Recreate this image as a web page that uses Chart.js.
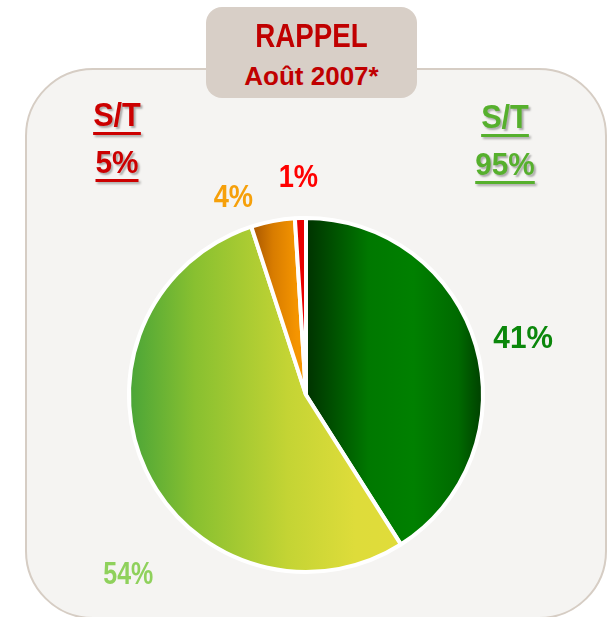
<!DOCTYPE html>
<html>
<head>
<meta charset="utf-8">
<script src="https://cdn.jsdelivr.net/npm/chart.js@4"></script>
<style>
    html, body { margin: 0; padding: 0; background: #ffffff; }
    body { width: 614px; height: 617px; position: relative; overflow: hidden; font-family: "Liberation Sans", Arial, sans-serif; }
    #panel {
        position: absolute; left: 25px; top: 68px; width: 578px; height: 547px;
        background: #f5f4f2; border: 2px solid #d6cdc4; border-radius: 68px;
    }
    #titlebox {
        position: absolute; left: 206px; top: 7px; width: 211px; height: 91px;
        background: #d8cfc7; border-radius: 16px; color: #c00000; font-weight: bold;
    }
    .t1 { position: absolute; left: 0; width: 211px; top: 12px; font-size: 33px; line-height: 33px; text-align: center; transform: scaleX(0.84); }
    .t2 { position: absolute; left: 0; width: 211px; top: 56px; font-size: 26px; line-height: 26px; text-align: center; }
    .st {
        position: absolute; width: 140px; text-align: center; font-weight: bold;
        text-decoration: underline; text-decoration-thickness: 3px; text-underline-offset: 6px;
        text-shadow: 2px 2px 2px rgba(0,0,0,0.3);
    }
    .red { color: #cc0000; left: 47px; }
    .green { color: #56b02d; left: 435px; }
    .sq { transform: scaleX(0.93); }
    #wrap { position: absolute; left: 0; top: 0; width: 614px; height: 617px; }
</style>
</head>
<body>
<div id="panel"></div>
<div id="titlebox">
    <div class="t1">RAPPEL</div>
    <div class="t2">Août 2007*</div>
</div>
<div class="st red sq" style="top:98px;font-size:33px;line-height:33px;">S/T</div>
<div class="st red sq" style="top:146px;font-size:32px;line-height:32px;">5%</div>
<div class="st green sq" style="top:100px;font-size:33px;line-height:33px;">S/T</div>
<div class="st green sq" style="top:148px;font-size:32px;line-height:32px;">95%</div>
<div id="wrap"><canvas id="myChart"></canvas></div>

<script>
const labels = ['Catégorie 1', 'Catégorie 2', 'Catégorie 3', 'Catégorie 4'];
const values = [41, 54, 4, 1];
const valueLabels = ['41%', '54%', '4%', '1%'];

// label placement: angle (deg, clockwise from top) and distance (x radius)
const labelPlacement = [
    { angle: 75, dist: 1.27, color: '#0b870b', font: 'bold 32px "Liberation Sans"', sx: 0.93 },
    { angle: 225, dist: 1.42, color: '#8fd15c', font: 'bold 32px "Liberation Sans"', sx: 0.78 },
    { angle: 340, dist: 1.2, color: '#f6a00a', font: 'bold 31px "Liberation Sans"', sx: 0.88 },
    { angle: 358, dist: 1.24, color: '#ff0000', font: 'bold 31px "Liberation Sans"', sx: 0.88 },
];

// horizontal gradients, x given in radius units from the centre
const sliceGradients = [
    { x0: 0, x1: 1, stops: [[0, '#003200'], [0.35, '#007800'], [0.6, '#008000'], [0.85, '#006a00'], [1, '#003c00']] },
    { x0: -1, x1: 0.5, stops: [[0, '#48a438'], [0.25, '#88c030'], [0.6, '#c4d434'], [0.85, '#dedc3a'], [1, '#e0dc3a']] },
    { x0: -0.32, x1: -0.05, stops: [[0, '#a05000'], [0.5, '#d87c00'], [1, '#f59500']] },
    { x0: -0.1, x1: 0.05, stops: [[0, '#e80000'], [1, '#e80000']] },
];

function sliceColor(context) {
    var chart = context.chart;
    var area = chart.chartArea;
    var g = sliceGradients[context.dataIndex];
    if (!area || !g) return g ? g.stops[g.stops.length - 1][1] : '#888';
    var cx = (area.left + area.right) / 2;
    var r = Math.min(area.right - area.left, area.bottom - area.top) / 2;
    var grad = chart.ctx.createLinearGradient(cx + g.x0 * r, 0, cx + g.x1 * r, 0);
    for (var i = 0; i < g.stops.length; i++) {
        grad.addColorStop(g.stops[i][0], g.stops[i][1]);
    }
    return grad;
}

const pctLabels = {
    id: 'pctLabels',
    afterDatasetsDraw(chart) {
        var ctx = chart.ctx;
        var arcs = chart.getDatasetMeta(0).data;
        for (var i = 0; i < arcs.length; i++) {
            var p = labelPlacement[i];
            var arc = arcs[i];
            var a = p.angle * Math.PI / 180;
            var x = arc.x + Math.sin(a) * arc.outerRadius * p.dist;
            var y = arc.y - Math.cos(a) * arc.outerRadius * p.dist;
            ctx.save();
            ctx.font = p.font;
            ctx.fillStyle = p.color;
            ctx.textAlign = 'center';
            ctx.textBaseline = 'alphabetic';
            ctx.translate(x, y);
            ctx.scale(p.sx, 1);
            ctx.fillText(valueLabels[i], 0, 11.5);
            ctx.restore();
        }
    }
};

const config = {
    type: 'pie',
    data: {
        labels: labels,
        datasets: [{
            data: values,
            backgroundColor: sliceColor,
            borderColor: '#ffffff',
            borderWidth: 4,
            hoverOffset: 0,
        }],
    },
    options: {
        responsive: true,
        maintainAspectRatio: false,
        animation: false,
        layout: {
            padding: { left: 127, right: 129, top: 216, bottom: 43 }
        },
        plugins: {
            legend: { display: false },
            tooltip: { enabled: false },
        },
    },
    plugins: [pctLabels],
};

const myChart = new Chart(
    document.getElementById('myChart'),
    config,
);
</script>
</body>
</html>
